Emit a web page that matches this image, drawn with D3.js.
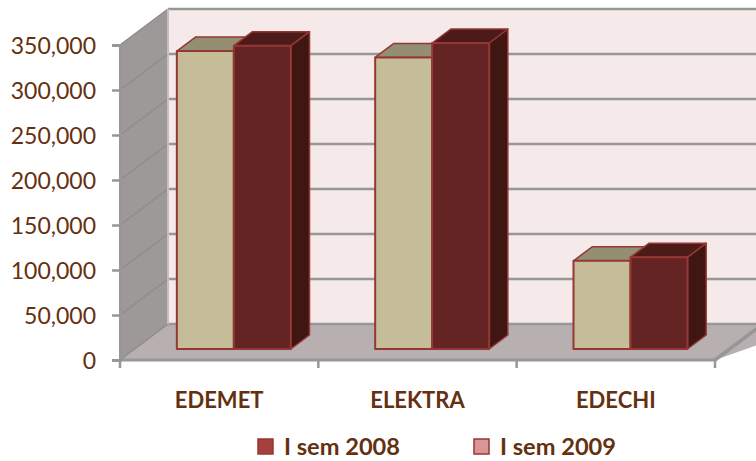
<!DOCTYPE html>
<html>
<head>
<meta charset="utf-8">
<script src="https://cdn.jsdelivr.net/npm/d3@7"></script>
<style>
  html, body { margin: 0; padding: 0; background: #fff; overflow: hidden; }
  text { font-family: Lato, "Open Sans", sans-serif; fill: #653010; }
</style>
</head>
<body>
<svg width="756" height="461"></svg>
<script>
var categories = ["EDEMET", "ELEKTRA", "EDECHI"];
var seriesNames = ["I sem 2008", "I sem 2009"];
var sem2008 = [331000, 324000, 98000];
var sem2009 = [337000, 340000, 102000];
var yTicks = [0, 50000, 100000, 150000, 200000, 250000, 300000, 350000];

var svg = d3.select("svg"),
    width = +svg.attr("width"),
    height = +svg.attr("height");

// front plane of the 3d box
var left = 120, right = 715, bottom = 360, top_ = 45;
// how far the back wall is pushed, and where the bars sit inside that depth
var depthX = 48, depthY = 36;
var barOffset = 11 / 36, barDepth = 14 / 36;
var gridColor = "#979797", barEdge = "#953735";

var y = d3.scaleLinear().domain([0, 350000]).range([bottom, top_]);
var x = d3.scaleBand().domain(categories).range([left, right]);
var barW = 57;

function poly(g, pts, fill, stroke, sw) {
  return g.append("polygon")
    .attr("points", pts.map(function(p) { return p.join(","); }).join(" "))
    .attr("fill", fill)
    .attr("stroke", stroke || "none")
    .attr("stroke-width", sw || 0)
    .attr("stroke-linejoin", "round");
}

// walls and floor
var walls = svg.append("g");
poly(walls, [[left + depthX, y(350000) - depthY], [width + 10, y(350000) - depthY],
             [width + 10, bottom - depthY], [left + depthX, bottom - depthY]], "#f5e9e9");
poly(walls, [[left, bottom], [left + depthX, bottom - depthY],
             [width + 60, bottom - depthY], [right, bottom]], "#b8b0b0");
poly(walls, [[left, y(350000)], [left + depthX, y(350000) - depthY],
             [left + depthX, bottom - depthY], [left, bottom]], "#9d9998");

// gridlines run across the back wall and down the left wall
yTicks.forEach(function(t) {
  walls.append("line")
    .attr("x1", left + depthX).attr("x2", width)
    .attr("y1", y(t) - depthY).attr("y2", y(t) - depthY)
    .attr("stroke", gridColor).attr("stroke-width", 2.5);
  walls.append("line")
    .attr("x1", left).attr("x2", left + depthX)
    .attr("y1", y(t)).attr("y2", y(t) - depthY)
    .attr("stroke", "#8f8c8b").attr("stroke-width", 1.5);
});
walls.append("line")
  .attr("x1", left + depthX).attr("x2", left + depthX)
  .attr("y1", y(350000) - depthY).attr("y2", bottom - depthY)
  .attr("stroke", "#c4c0c0").attr("stroke-width", 2);
walls.append("line")
  .attr("x1", right).attr("x2", right + depthX * 1.1)
  .attr("y1", bottom).attr("y2", bottom - depthY * 1.1)
  .attr("stroke", gridColor).attr("stroke-width", 3.5);

// bars
var barStyles = [
  { front: "#c4bd97", top: "#948f72", side: "#7d7860" },
  { front: "#632423", top: "#4c1b18", side: "#401613" }
];
var barsG = svg.append("g");
categories.forEach(function(cat, i) {
  var ox = depthX * barOffset, oy = depthY * barOffset;
  var dx = depthX * barDepth, dy = depthY * barDepth;
  var cx = x(cat) + x.bandwidth() / 2 + ox;
  var x1 = d3.scaleBand().domain(seriesNames).range([cx - barW, cx + barW]);
  [sem2008[i], sem2009[i]].forEach(function(v, s) {
    var st = barStyles[s];
    var xl = x1(seriesNames[s]), xr = xl + x1.bandwidth();
    var yb = bottom - oy, yt = y(v) - oy;
    poly(barsG, [[xr, yt], [xr + dx, yt - dy], [xr + dx, yb - dy], [xr, yb]], st.side, barEdge, 1.5);
    poly(barsG, [[xl, yt], [xl + dx, yt - dy], [xr + dx, yt - dy], [xr, yt]], st.top, barEdge, 1.5);
    poly(barsG, [[xl, yt], [xr, yt], [xr, yb], [xl, yb]], st.front, barEdge, 2);
  });
});

// axes
var yAxis = d3.axisLeft(y).tickValues(yTicks).tickSize(8).tickPadding(16)
  .tickFormat(d3.format(","));
var yG = svg.append("g").attr("transform", "translate(" + left + ",0)").call(yAxis);
yG.selectAll("line").attr("stroke", gridColor).attr("stroke-width", 2.5);
yG.select(".domain").attr("stroke", gridColor).attr("stroke-width", 3);
yG.selectAll("text").attr("dy", "0.37em").style("font-size", "23px")
  .style("font-family", "Lato, sans-serif").style("fill", "#653010");

var xAxis = d3.axisBottom(x).tickSize(0).tickPadding(32);
var xG = svg.append("g").attr("transform", "translate(0," + bottom + ")").call(xAxis);
xG.select(".domain").attr("stroke", gridColor).attr("stroke-width", 3).attr("d", "M" + left + ",0H" + right);
xG.selectAll("text").style("font-size", "22px").style("font-weight", "700")
  .style("font-family", "Lato, sans-serif").style("fill", "#653010");
// category ticks sit on the band edges, not the centres
categories.concat([null]).forEach(function(c) {
  var tx = c === null ? right : x(c);
  xG.append("line").attr("x1", tx).attr("x2", tx).attr("y1", 0).attr("y2", 8)
    .attr("stroke", gridColor).attr("stroke-width", 2.5);
});

// legend
var legendFill = ["#a5403f", "#d99694"];
var legendX = [258, 474];
var legend = svg.append("g");
seriesNames.forEach(function(name, i) {
  legend.append("rect")
    .attr("x", legendX[i]).attr("y", 439).attr("width", 15).attr("height", 15)
    .attr("fill", legendFill[i]).attr("stroke", "#953735").attr("stroke-width", 1.5);
  legend.append("text")
    .attr("x", legendX[i] + 26).attr("y", 455)
    .style("font-size", "23.6px").style("font-weight", "700")
    .text(name);
});
</script>
</body>
</html>
